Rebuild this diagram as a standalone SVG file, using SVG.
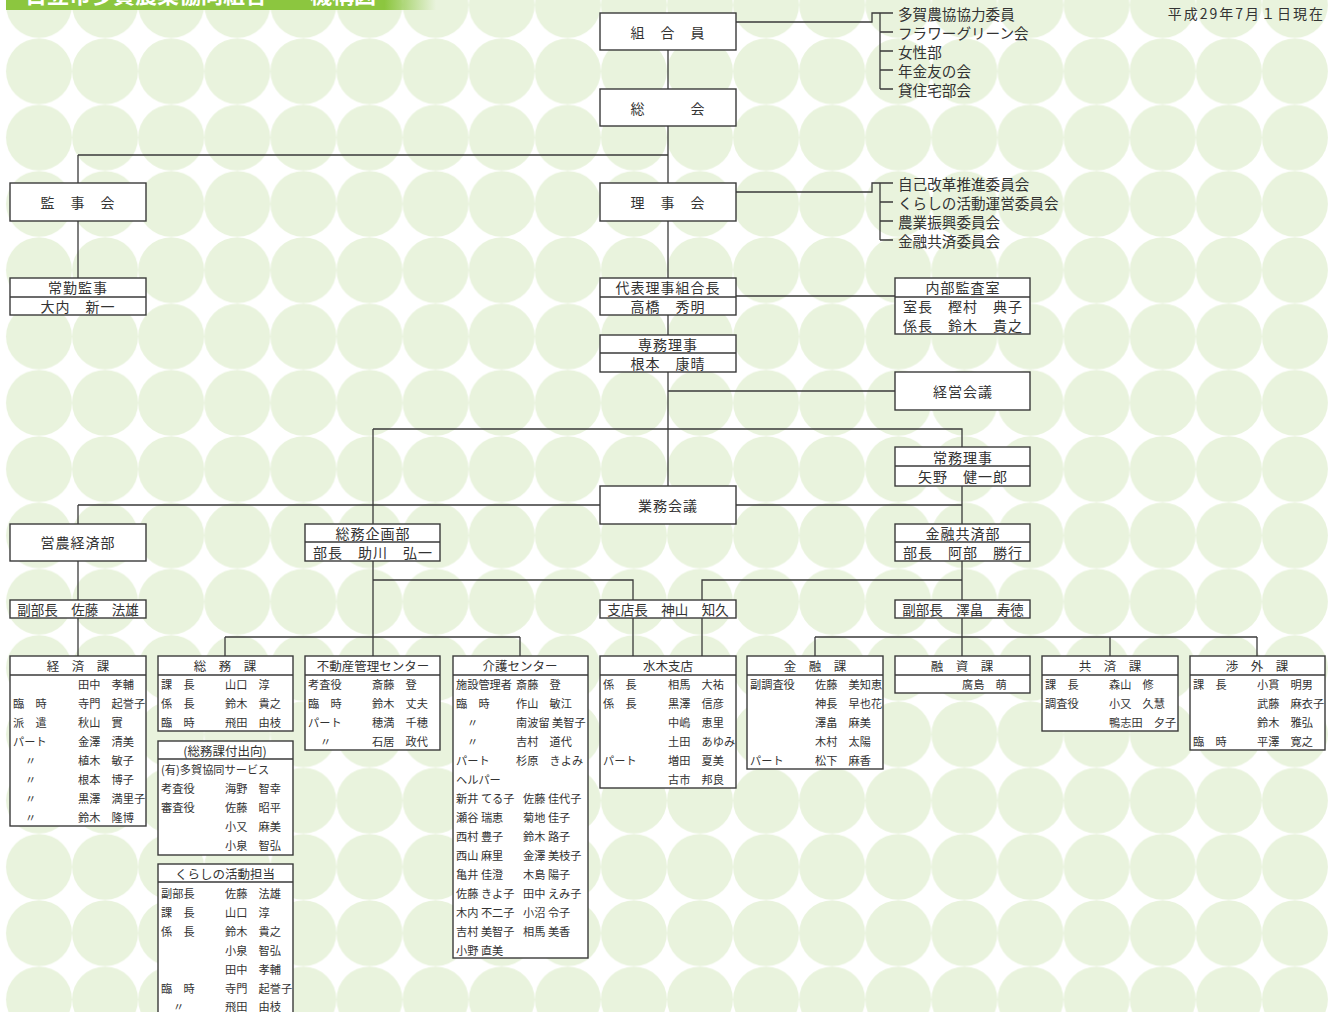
<svg xmlns="http://www.w3.org/2000/svg" width="1334" height="1012" viewBox="0 0 1334 1012">
<style>
text{font-family:"Noto Sans CJK JP","Noto Sans CJK SC",sans-serif;fill:#333;dominant-baseline:central}
.n{font-size:14px;letter-spacing:1px;text-anchor:middle}
.s{font-size:13.5px;text-anchor:middle}
.h{font-size:12.5px;text-anchor:middle}
.r{font-size:11.2px}
.l{font-size:14.6px}
.box{fill:#fff;stroke:#3a3a3a;stroke-width:1.4}
.ln{stroke:#3a3a3a;stroke-width:1.3;fill:none}
</style>
<defs>
<pattern id="dots" patternUnits="userSpaceOnUse" x="5.95" y="-28.15" width="66.1" height="66.3">
<circle cx="33.05" cy="33.15" r="33" fill="#e9f3dd"/>
</pattern>
<linearGradient id="tg" x1="0" y1="0" x2="1" y2="0">
<stop offset="0" stop-color="#8cc63f"/>
<stop offset="0.88" stop-color="#8cc63f"/>
<stop offset="1" stop-color="#8cc63f" stop-opacity="0"/>
</linearGradient>
</defs>
<rect width="1334" height="1012" fill="#fff"/>
<rect x="5.95" y="0" width="1322" height="1012" fill="url(#dots)"/>
<g id="title">
<rect x="6" y="0" width="430" height="10" fill="url(#tg)"/>
<text x="25" y="-7" style="font-size:22px;font-weight:bold;fill:#fff">日立市多賀農業協同組合</text>
<text x="310" y="-7" style="font-size:22px;font-weight:bold;fill:#fff">機構図</text>
</g>
<text x="1325" y="13" style="font-size:14px;letter-spacing:2px;text-anchor:end">平成29年7月１日現在</text>

<g id="connectors">
<path class="ln" d="M668 50V486"/>
<path class="ln" d="M78 155H668M78 155V278"/>
<path class="ln" d="M736 22H872V13H893M880 13V89M880 32H893M880 51H893M880 70H893M880 89H893"/>
<path class="ln" d="M736 192H872V183H893M880 183V240M880 202H893M880 221H893M880 240H893"/>
<path class="ln" d="M736 296H895"/>
<path class="ln" d="M668 391H895"/>
<path class="ln" d="M373 429H962V447M373 429V524"/>
<path class="ln" d="M78 505H600M736 505H962M78 505V524"/>
<path class="ln" d="M962 486V656"/>
<path class="ln" d="M78 561V656"/>
<path class="ln" d="M373 561V656M373 580H633V656M225 637H520M225 637V656M520 637V656"/>
<path class="ln" d="M962 580H702V656M815 637H1257M815 637V656M1110 637V656M1257 637V656"/>
</g>

<g id="kumiaiin"><rect class="box" x="600" y="13" width="136" height="37"/><text class="n" x="668" y="31.5">組　合　員</text></g>
<g id="soukai"><rect class="box" x="600" y="89" width="136" height="37"/><text class="n" x="668" y="107.5">総　　　会</text></g>
<g id="list1">
<text class="l" x="898" y="13">多賀農協協力委員</text>
<text class="l" x="898" y="32">フラワーグリーン会</text>
<text class="l" x="898" y="51">女性部</text>
<text class="l" x="898" y="70">年金友の会</text>
<text class="l" x="898" y="89">貸住宅部会</text>
</g>
<g id="kanjikai"><rect class="box" x="10" y="183" width="136" height="38"/><text class="n" x="78" y="201.5">監　事　会</text></g>
<g id="rijikai"><rect class="box" x="600" y="183" width="136" height="38"/><text class="n" x="668" y="201.5">理　事　会</text></g>
<g id="list2">
<text class="l" x="898" y="183">自己改革推進委員会</text>
<text class="l" x="898" y="202">くらしの活動運営委員会</text>
<text class="l" x="898" y="221">農業振興委員会</text>
<text class="l" x="898" y="240">金融共済委員会</text>
</g>
<g id="joukin"><rect class="box" x="10" y="278" width="136" height="37"/><path class="ln" d="M10 297H146"/><text class="n" x="78" y="287">常勤監事</text><text class="n" x="78" y="306">大内　新一</text></g>
<g id="daihyo"><rect class="box" x="600" y="278" width="136" height="37"/><path class="ln" d="M600 297H736"/><text class="n" x="668" y="287">代表理事組合長</text><text class="n" x="668" y="306">高橋　秀明</text></g>
<g id="naibu"><rect class="box" x="895" y="278" width="135" height="56"/><path class="ln" d="M895 297H1030"/><text class="n" x="963" y="287">内部監査室</text><text class="n" x="963" y="306">室長　樫村　典子</text><text class="n" x="963" y="325">係長　鈴木　貴之</text></g>
<g id="senmu"><rect class="box" x="600" y="335" width="136" height="37"/><path class="ln" d="M600 353H736"/><text class="n" x="668" y="344">専務理事</text><text class="n" x="668" y="363">根本　康晴</text></g>
<g id="keiei"><rect class="box" x="895" y="372" width="135" height="38"/><text class="n" x="963" y="390.5">経営会議</text></g>
<g id="joumu"><rect class="box" x="895" y="447" width="135" height="39"/><path class="ln" d="M895 466H1030"/><text class="n" x="963" y="456.5">常務理事</text><text class="n" x="963" y="475.5">矢野　健一郎</text></g>
<g id="gyomu"><rect class="box" x="600" y="486" width="136" height="38"/><text class="n" x="668" y="504.5">業務会議</text></g>
<g id="einou"><rect class="box" x="10" y="524" width="136" height="37"/><text class="n" x="78" y="542">営農経済部</text></g>
<g id="soumukikaku"><rect class="box" x="305" y="524" width="135" height="37"/><path class="ln" d="M305 542H440"/><text class="n" x="373" y="532.5">総務企画部</text><text class="n" x="373" y="551.5">部長　助川　弘一</text></g>
<g id="kinyukyosai"><rect class="box" x="895" y="524" width="135" height="37"/><path class="ln" d="M895 542H1030"/><text class="n" x="963" y="532.5">金融共済部</text><text class="n" x="963" y="551.5">部長　阿部　勝行</text></g>
<g id="fukubu1"><rect class="box" x="10" y="600" width="136" height="18"/><text class="s" x="78" y="608.5">副部長　佐藤　法雄</text></g>
<g id="shitencho"><rect class="box" x="600" y="600" width="136" height="18"/><text class="s" x="668" y="608.5">支店長　神山　知久</text></g>
<g id="fukubu2"><rect class="box" x="895" y="600" width="135" height="18"/><text class="s" x="963" y="608.5">副部長　澤畠　寿徳</text></g>

<g id="keizaika"><rect class="box" x="10" y="656" width="136" height="170"/><path class="ln" d="M10 675H146"/><text class="h" x="78" y="665">経　済　課</text>
<text class="r" x="78" y="684">田中　孝輔</text>
<text class="r" x="13" y="703">臨　時</text><text class="r" x="78" y="703">寺門　起誉子</text>
<text class="r" x="13" y="722">派　遣</text><text class="r" x="78" y="722">秋山　實</text>
<text class="r" x="13" y="741">パート</text><text class="r" x="78" y="741">金澤　清美</text>
<text class="r" x="25" y="760">〃</text><text class="r" x="78" y="760">植木　敏子</text>
<text class="r" x="25" y="779">〃</text><text class="r" x="78" y="779">根本　博子</text>
<text class="r" x="25" y="798">〃</text><text class="r" x="78" y="798">黒澤　満里子</text>
<text class="r" x="25" y="817">〃</text><text class="r" x="78" y="817">鈴木　隆博</text>
</g>
<g id="soumuka"><rect class="box" x="158" y="656" width="135" height="75"/><path class="ln" d="M158 675H293"/><text class="h" x="225" y="665">総　務　課</text>
<text class="r" x="161" y="684">課　長</text><text class="r" x="225" y="684">山口　淳</text>
<text class="r" x="161" y="703">係　長</text><text class="r" x="225" y="703">鈴木　貴之</text>
<text class="r" x="161" y="722">臨　時</text><text class="r" x="225" y="722">飛田　由枝</text>
</g>
<g id="shukko"><rect class="box" x="158" y="741" width="135" height="114"/><path class="ln" d="M158 759H293"/><text class="h" x="225" y="750">(総務課付出向)</text>
<text class="r" x="161" y="769">(有)多賀協同サービス</text>
<text class="r" x="161" y="788">考査役</text><text class="r" x="225" y="788">海野　智幸</text>
<text class="r" x="161" y="807">審査役</text><text class="r" x="225" y="807">佐藤　昭平</text>
<text class="r" x="225" y="826">小又　麻美</text>
<text class="r" x="225" y="845">小泉　智弘</text>
</g>
<g id="kurashi"><rect class="box" x="158" y="864" width="135" height="160"/><path class="ln" d="M158 882H293"/><text class="h" x="225" y="873">くらしの活動担当</text>
<text class="r" x="161" y="893">副部長</text><text class="r" x="225" y="893">佐藤　法雄</text>
<text class="r" x="161" y="912">課　長</text><text class="r" x="225" y="912">山口　淳</text>
<text class="r" x="161" y="931">係　長</text><text class="r" x="225" y="931">鈴木　貴之</text>
<text class="r" x="225" y="950">小泉　智弘</text>
<text class="r" x="225" y="969">田中　孝輔</text>
<text class="r" x="161" y="988">臨　時</text><text class="r" x="225" y="988">寺門　起誉子</text>
<text class="r" x="173" y="1005.5">〃</text><text class="r" x="225" y="1005.5">飛田　由枝</text>
</g>
<g id="fudosan"><rect class="box" x="305" y="656" width="135" height="94"/><path class="ln" d="M305 675H440"/><text class="h" x="373" y="665">不動産管理センター</text>
<text class="r" x="308" y="684">考査役</text><text class="r" x="372" y="684">斎藤　登</text>
<text class="r" x="308" y="703">臨　時</text><text class="r" x="372" y="703">鈴木　丈夫</text>
<text class="r" x="308" y="722">パート</text><text class="r" x="372" y="722">穂満　千穂</text>
<text class="r" x="320" y="741">〃</text><text class="r" x="372" y="741">石居　政代</text>
</g>
<g id="kaigo"><rect class="box" x="453" y="656" width="135" height="302"/><path class="ln" d="M453 675H588"/><text class="h" x="520" y="665">介護センター</text>
<text class="r" x="456" y="684">施設管理者</text><text class="r" x="516" y="684">斎藤　登</text>
<text class="r" x="456" y="703">臨　時</text><text class="r" x="516" y="703">作山　敏江</text>
<text class="r" x="467" y="722">〃</text><text class="r" x="516" y="722">南波留 美智子</text>
<text class="r" x="467" y="741">〃</text><text class="r" x="516" y="741">吉村　道代</text>
<text class="r" x="456" y="760">パート</text><text class="r" x="516" y="760">杉原　きよみ</text>
<text class="r" x="456" y="779">ヘルパー</text>
<text class="r" x="456" y="798">新井 てる子</text><text class="r" x="523" y="798">佐藤 佳代子</text>
<text class="r" x="456" y="817">瀬谷 瑞恵</text><text class="r" x="523" y="817">菊地 佳子</text>
<text class="r" x="456" y="836">西村 豊子</text><text class="r" x="523" y="836">鈴木 路子</text>
<text class="r" x="456" y="855">西山 麻里</text><text class="r" x="523" y="855">金澤 美枝子</text>
<text class="r" x="456" y="874">亀井 佳澄</text><text class="r" x="523" y="874">木島 陽子</text>
<text class="r" x="456" y="893">佐藤 きよ子</text><text class="r" x="523" y="893">田中 えみ子</text>
<text class="r" x="456" y="912">木内 不二子</text><text class="r" x="523" y="912">小沼 令子</text>
<text class="r" x="456" y="931">吉村 美智子</text><text class="r" x="523" y="931">相馬 美香</text>
<text class="r" x="456" y="950">小野 直美</text>
</g>
<g id="mizuki"><rect class="box" x="600" y="656" width="136" height="132"/><path class="ln" d="M600 675H736"/><text class="h" x="668" y="665">水木支店</text>
<text class="r" x="603" y="684">係　長</text><text class="r" x="668" y="684">相馬　大祐</text>
<text class="r" x="603" y="703">係　長</text><text class="r" x="668" y="703">黒澤　信彦</text>
<text class="r" x="668" y="722">中嶋　恵里</text>
<text class="r" x="668" y="741">土田　あゆみ</text>
<text class="r" x="603" y="760">パート</text><text class="r" x="668" y="760">増田　夏美</text>
<text class="r" x="668" y="779">古市　邦良</text>
</g>
<g id="kinyuka"><rect class="box" x="747" y="656" width="136" height="113"/><path class="ln" d="M747 675H883"/><text class="h" x="815" y="665">金　融　課</text>
<text class="r" x="750" y="684">副調査役</text><text class="r" x="815" y="684">佐藤　美知恵</text>
<text class="r" x="815" y="703">神長　早也花</text>
<text class="r" x="815" y="722">澤畠　麻美</text>
<text class="r" x="815" y="741">木村　太陽</text>
<text class="r" x="750" y="760">パート</text><text class="r" x="815" y="760">松下　麻香</text>
</g>
<g id="yushika"><rect class="box" x="895" y="656" width="135" height="37"/><path class="ln" d="M895 675H1030"/><text class="h" x="962" y="665">融　資　課</text>
<text class="r" x="962" y="684">廣島　萌</text>
</g>
<g id="kyosaika"><rect class="box" x="1042" y="656" width="136" height="75"/><path class="ln" d="M1042 675H1178"/><text class="h" x="1110" y="665">共　済　課</text>
<text class="r" x="1045" y="684">課　長</text><text class="r" x="1109" y="684">森山　修</text>
<text class="r" x="1045" y="703">調査役</text><text class="r" x="1109" y="703">小又　久慧</text>
<text class="r" x="1109" y="722">鴨志田　夕子</text>
</g>
<g id="shogaika"><rect class="box" x="1190" y="656" width="135" height="94"/><path class="ln" d="M1190 675H1325"/><text class="h" x="1257" y="665">渉　外　課</text>
<text class="r" x="1193" y="684">課　長</text><text class="r" x="1257" y="684">小貫　明男</text>
<text class="r" x="1257" y="703">武藤　麻衣子</text>
<text class="r" x="1257" y="722">鈴木　雅弘</text>
<text class="r" x="1193" y="741">臨　時</text><text class="r" x="1257" y="741">平澤　寛之</text>
</g>
</svg>
